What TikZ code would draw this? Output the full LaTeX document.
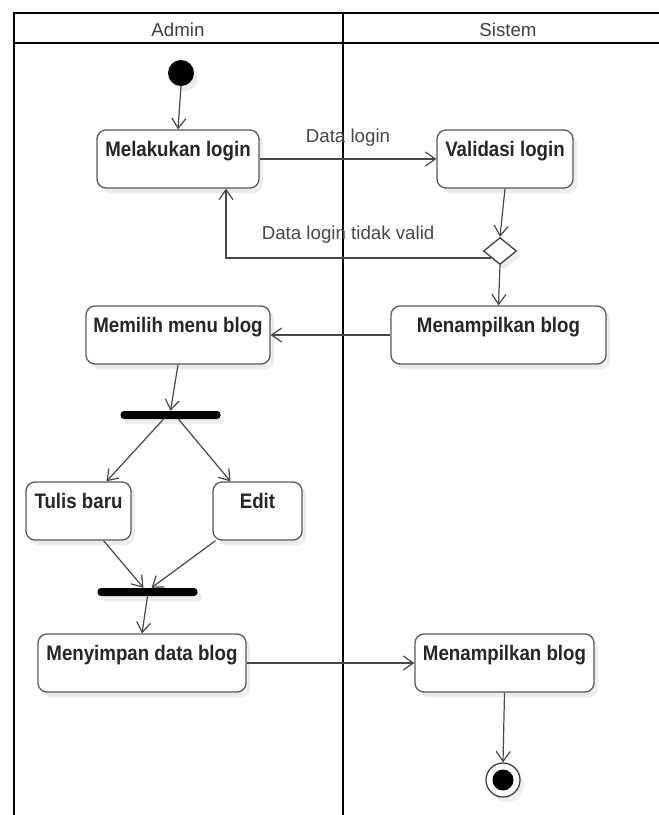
\documentclass[tikz,border=0pt]{standalone}
\usepackage{fontspec}
\setmainfont{Liberation Sans}
\newfontfamily\actfont[FakeStretch=0.89]{Liberation Sans}
\usetikzlibrary{arrows.meta,shapes.geometric,shadows,calc}

\tikzset{
  soft shadow/.style={drop shadow={shadow xshift=4pt, shadow yshift=-5pt, fill=black!7, opacity=1}},
  lane/.style={line width=2.4pt, draw=black, line join=miter},
  act/.style={draw=black!65, line width=1.3pt, rounded corners=9pt, fill=white,
    font=\actfont\fontsize{21}{24}\selectfont\bfseries, text=black!85,
    inner xsep=6pt, inner ysep=6pt, text height=20pt, text depth=26pt,
    soft shadow},
  flow/.style={draw=black!72, line width=1.2pt,
    -{Straight Barb[length=10pt,width=14pt,line width=1.2pt]}},
  bar/.style={fill=black, rounded corners=3.5pt, minimum width=100pt,
    minimum height=8pt, inner sep=0pt, soft shadow},
  lbl/.style={font=\fontsize{18.7}{22}\selectfont, text=black!72, inner sep=0pt},
  head/.style={font=\fontsize{18.7}{22}\selectfont, text=black!75, inner sep=0pt},
}

\begin{document}
\begin{tikzpicture}[x=1pt,y=-1pt]
  \useasboundingbox[fill=white] (0,0) rectangle (659,815);

  % swimlane frame
  \draw[lane] (14,816) -- (14,12.7) -- (662,12.7);
  \draw[lane] (14,43) -- (662,43);
  \draw[lane] (343,12.7) -- (343,816);
  \node[head] (hAdmin) at (178,29.5) {Admin};
  \node[head] (hSistem) at (508,29.5) {Sistem};

  % actions
  \node[act, minimum width=162pt] (login) at (178,159) {Melakukan login};
  \node[act, minimum width=136pt] (valid) at (505,159) {Validasi login};
  \node[diamond, draw=black!75, line width=1.3pt, fill=white, minimum width=33pt,
        minimum height=27pt, inner sep=0pt, soft shadow] (dec) at (500,251) {};
  \node[act, minimum width=184pt] (menu) at (178,335) {Memilih menu blog};
  \node[act, minimum width=215pt] (show1) at (498.5,335) {Menampilkan blog};
  \node[bar] (fork) at (170.5,415) {};
  \node[act, minimum width=105pt] (write) at (78.5,511) {Tulis baru};
  \node[act, minimum width=89pt] (edit) at (257.5,511) {Edit};
  \node[bar] (join) at (147.5,592) {};
  \node[act, minimum width=208pt] (save) at (142,663) {Menyimpan data blog};
  \node[act, minimum width=179pt] (show2) at (504.5,663) {Menampilkan blog};

  % start and end
  \node[circle, fill=black, minimum size=26pt, inner sep=0pt, soft shadow] (start) at (181,73) {};
  \node[circle, draw=black!80, line width=1.2pt, fill=white, minimum size=34pt,
        inner sep=0pt, soft shadow] (end) at (503,780) {};
  \node[circle, fill=black, minimum size=21pt, inner sep=0pt] (endDot) at (end.center) {};

  % flows
  \draw[flow] (start.south) -- (login.north);
  \draw[flow] (login) -- node[lbl, above=12pt] (lblData) {Data login} (valid);
  \draw[flow] (valid.south) -- (dec.north);
  \draw[flow] (dec.south west) -| node[lbl, above=14pt, pos=0.27] (lblInvalid) {Data login tidak valid}
              ([xshift=48pt]login.south);
  \draw[flow] (dec.south) -- (show1.north);
  \draw[flow] (show1) -- (menu);
  \draw[flow] (menu.south) -- (fork.north);
  \draw[flow] ([xshift=-7pt]fork.south) -- ([xshift=28pt]write.north);
  \draw[flow] ([xshift=8pt]fork.south) -- ([xshift=-27pt]edit.north);
  \draw[flow] ([xshift=25pt]write.south) -- ([xshift=-4pt]join.north);
  \draw[flow] ([xshift=-42pt]edit.south) -- ([xshift=4pt]join.north);
  \draw[flow] (join.south) -- (save.north);
  \draw[flow] (save) -- (show2);
  \draw[flow] (show2.south) -- (end.north);
\end{tikzpicture}
\end{document}
